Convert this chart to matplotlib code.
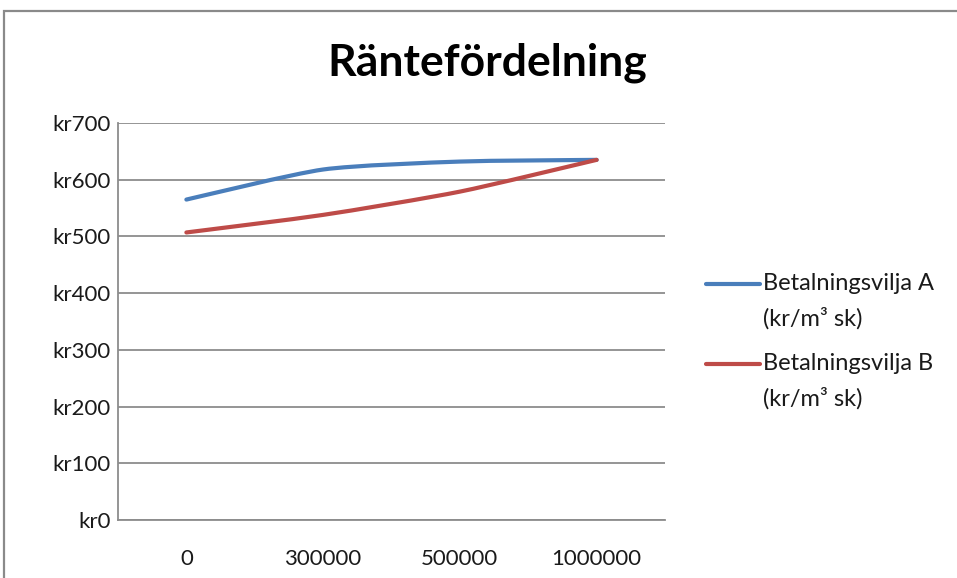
import matplotlib
matplotlib.use("Agg")
import matplotlib.pyplot as plt
from matplotlib.path import Path
from matplotlib.patches import PathPatch, Rectangle
from matplotlib.lines import Line2D
import numpy as np

# Chart data
categories = ["0", "300000", "500000", "1000000"]
series_a = [565, 618, 632, 635]
series_b = [507, 538, 579, 635]
label_a = "Betalningsvilja A\n(kr/m³ sk)"
label_b = "Betalningsvilja B\n(kr/m³ sk)"
title = "Räntefördelning"
y_ticks = [0, 100, 200, 300, 400, 500, 600, 700]

COLOR_A = "#4A7EBB"
COLOR_B = "#BE4B48"
GRID = "#8C8C8C"
TEXT = "#1A1A1A"
FONT = ["Lato", "DejaVu Sans"]

plt.rcParams["font.family"] = FONT

W, H = 957, 578
fig = plt.figure(figsize=(W / 100, H / 100), dpi=100)

# Outer chart frame (runs past the right and bottom edges)
fig.patches.append(Rectangle((4 / W, -0.2), 1.5, 1 - 11 / H + 0.2,
                             transform=fig.transFigure, fill=False,
                             edgecolor="#8A8A8A", linewidth=1.6))

ax = fig.add_axes([118 / W, 1 - 520 / H, 547 / W, 397 / H])


def smooth_path(xs, ys, k=9.0):
    """Cubic Bezier through the points with Catmull-Rom style tangents."""
    pts = np.column_stack([xs, ys]).astype(float)
    n = len(pts)
    verts = [pts[0]]
    codes = [Path.MOVETO]
    for i in range(n - 1):
        p0 = pts[i - 1] if i > 0 else pts[i]
        p1 = pts[i]
        p2 = pts[i + 1]
        p3 = pts[i + 2] if i + 2 < n else pts[i + 1]
        c1 = p1 + (p2 - p0) / k
        c2 = p2 - (p3 - p1) / k
        verts += [c1, c2, p2]
        codes += [Path.CURVE4] * 3
    return Path(verts, codes)


x = np.arange(len(categories))
for ys, col in [(series_a, COLOR_A), (series_b, COLOR_B)]:
    ax.add_patch(PathPatch(smooth_path(x, ys), facecolor="none", edgecolor=col,
                           linewidth=3.0, capstyle="round", joinstyle="round",
                           zorder=3))

ax.set_xlim(-0.5, len(categories) - 0.5)
ax.set_ylim(0, 700)
ax.set_xticks(x)
ax.set_xticklabels(categories)
ax.set_yticks(y_ticks)
ax.set_yticklabels([f"kr{v}" for v in y_ticks])
ax.tick_params(axis="both", length=0, labelsize=16, colors=TEXT)
ax.tick_params(axis="x", pad=21)
ax.tick_params(axis="y", pad=5)
ax.yaxis.grid(True, color=GRID, linewidth=1.3)
ax.set_axisbelow(True)
for side in ["top", "right"]:
    ax.spines[side].set_visible(False)
for side in ["left", "bottom"]:
    ax.spines[side].set_color(GRID)
    ax.spines[side].set_linewidth(1.3)

fig.text(487 / W, 1 - 63 / H, title, ha="center", va="center",
         fontsize=32, fontweight="bold", color="black")

# Legend entries, handle aligned with the first text line
for (label, col), y0 in zip([(label_a, COLOR_A), (label_b, COLOR_B)], [284, 364]):
    fig.add_artist(Line2D([706 / W, 760 / W], [1 - y0 / H, 1 - y0 / H],
                          transform=fig.transFigure, color=col, linewidth=3.0,
                          solid_capstyle="round"))
    first, second = label.split("\n")
    fig.text(763 / W, 1 - y0 / H, first, ha="left", va="center",
             fontsize=17, color=TEXT)
    fig.text(763 / W, 1 - (y0 + 34) / H, second, ha="left", va="center",
             fontsize=17, color=TEXT)

fig.savefig("out.png", dpi=100)
